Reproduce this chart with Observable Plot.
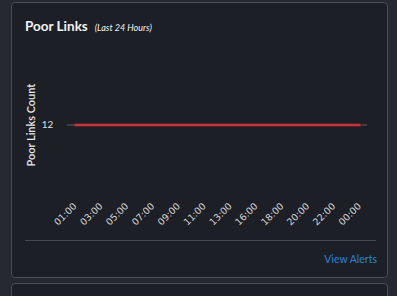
<!DOCTYPE html>
<html>
<head>
<meta charset="utf-8">
<script src="https://cdn.jsdelivr.net/npm/d3@7"></script>
<script src="https://cdn.jsdelivr.net/npm/@observablehq/plot@0.6"></script>
<style>
  html, body { margin: 0; padding: 0; background: #262a30; width: 397px; height: 296px; overflow: hidden; font-family: Lato, "Noto Sans", sans-serif; }
  .card { position: absolute; left: 11px; top: 2px; width: 375px; height: 274px; background: #1c1f26; border: 1px solid #4b4e54; border-radius: 4px; }
  .card2 { position: absolute; left: 11px; top: 283px; width: 375px; height: 40px; background: #1c1f26; border: 1px solid #4b4e54; border-radius: 4px; }
  .title { position: absolute; left: 13px; top: 15px; color: #f2f2f2; font-size: 13.5px; font-weight: bold; white-space: nowrap; }
  .title .sub { font-size: 9px; font-weight: normal; font-style: italic; margin-left: 7px; }
  #chart { position: absolute; left: 0px; top: 43px; }
  .sep { position: absolute; left: 13px; top: 237px; width: 351px; height: 1px; background: #45484e; }
  .link { position: absolute; right: 10px; top: 250px; color: #2a86d8; font-size: 10.5px; }
</style>
</head>
<body>
<div class="card">
  <div class="title">Poor Links<span class="sub">(Last 24 Hours)</span></div>
  <div id="chart"></div>
  <div class="sep"></div>
  <div class="link">View Alerts</div>
</div>
<div class="card2"></div>
<script>
const hours = ["01:00","03:00","05:00","07:00","09:00","11:00","13:00","16:00","18:00","20:00","22:00","00:00"];
const counts = [12,12,12,12,12,12,12,12,12,12,12,12];
const data = hours.map((h, i) => ({hour: h, count: counts[i]}));

const chart = Plot.plot({
  width: 377,
  height: 195,
  marginLeft: 55,
  marginRight: 20,
  marginTop: 5,
  marginBottom: 42,
  style: {background: "transparent", color: "#d0d0d0", fontFamily: "DejaVu Sans", fontSize: "9.5px"},
  x: {type: "point", domain: hours, padding: 0.23, label: null},
  y: {domain: [11, 13], ticks: [12], label: null},
  marks: [
    Plot.ruleY([12], {stroke: "#3a3d43", strokeWidth: 2}),
    Plot.line(data, {x: "hour", y: "count", stroke: "#7a1f24", strokeWidth: 3.5}),
    Plot.line(data, {x: "hour", y: "count", stroke: "#d0414a", strokeWidth: 1.6}),
    Plot.axisY({ticks: [12], tickSize: 0, tickPadding: 14, tickFormat: d => String(d), fontFamily: "Lato", fontSize: 10, fill: "#e0e0e0", label: null}),
    Plot.axisX({tickSize: 0, tickPadding: 6, tickRotate: -45, label: null, fill: "#d4d4d4"}),
    Plot.text(["Poor Links Count"], {frameAnchor: "left", textAnchor: "middle", dx: -36, rotate: -90, fontFamily: "Lato", fontSize: 11, fill: "#e6e6e6", fontWeight: 600})
  ]
});
document.getElementById("chart").appendChild(chart);
</script>
</body>
</html>
